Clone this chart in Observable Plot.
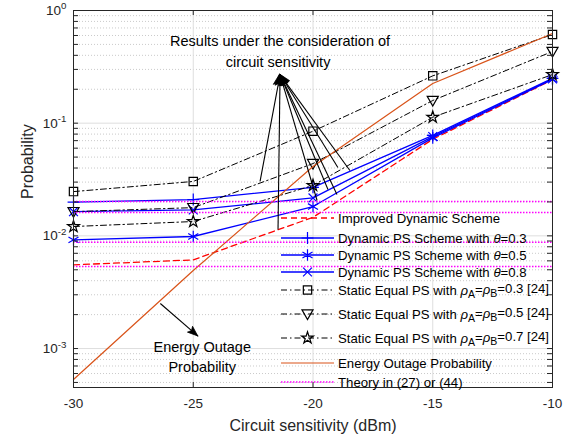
<!DOCTYPE html>
<html><head><meta charset="utf-8">
<script src="https://cdn.jsdelivr.net/npm/d3@7"></script>
<script src="https://cdn.jsdelivr.net/npm/@observablehq/plot@0.6"></script>
<style>body{margin:0;background:#fff}</style>
</head><body><div id="chart"></div>
<script>
// ---------- data ----------
const sens = [-30, -25, -20, -15, -10];             // circuit sensitivity (dBm)
const improved = [0.00553, 0.00612, 0.0146, 0.072, 0.243];
const dyn03 = [0.0199, 0.0210, 0.0269, 0.078, 0.250];
const dyn05 = [0.00922, 0.00987, 0.0182, 0.074, 0.245];
const dyn08 = [0.0164, 0.0170, 0.0217, 0.076, 0.247];
const static03 = [0.0247, 0.0304, 0.0849, 0.263, 0.612];
const static05 = [0.0164, 0.0178, 0.0438, 0.159, 0.433];
const static07 = [0.0121, 0.0134, 0.0280, 0.113, 0.270];
const energy = [0.000531, 0.00492, 0.0412, 0.225, 0.625];
const theory = [0.0202, 0.0161, 0.00878, 0.00534];  // horizontal theory levels

const xTicks = [-30, -25, -20, -15, -10];
const yMajor = [1e-3, 1e-2, 1e-1, 1];
const yMin = 4.51e-4;
const yMinor = [];
for (let k = -4; k <= -1; k++) for (let m = 2; m <= 9; m++) { const v = m * 10 ** k; if (v > yMin && v < 1) yMinor.push(v); }

// annotation arrows (tail -> apex), data coordinates
const arrowTailX = [-22.21, -21.46, -19.83, -19.375, -19.0, -18.96, -18.46];
const arrowTailY = [0.0304, 0.01138, 0.0206, 0.0258, 0.0233, 0.0404, 0.0380];
const apex = {x: -21.375, y: 0.27};
const energyArrow = {x1: -26.375, y1: 0.00251, x2: -24.79, y2: 0.00128};

const BLUE = "#0000ff", RED = "#ff0000", MAG = "#ff00ff", ORANGE = "#D95319", BLACK = "#000000";
const triDown = {draw(ctx, size) { const s = Math.sqrt(size); ctx.moveTo(-0.6*s, -0.45*s); ctx.lineTo(0.6*s, -0.45*s); ctx.lineTo(0, 0.6*s); ctx.closePath(); }};

const series = [
  {key: "improved", vals: improved, stroke: RED, dash: "6,4", width: 1.3, symbol: null},
  {key: "dyn03", vals: dyn03, stroke: BLUE, dash: null, width: 1.3, symbol: d3.symbolPlus, r: 3.9},
  {key: "dyn05", vals: dyn05, stroke: BLUE, dash: null, width: 1.3, symbol: d3.symbolAsterisk, r: 5.5},
  {key: "dyn08", vals: dyn08, stroke: BLUE, dash: null, width: 1.3, symbol: d3.symbolTimes, r: 4.1},
  {key: "static03", vals: static03, stroke: BLACK, dash: "6,3,1.5,3", width: 1, symbol: d3.symbolSquare, r: 4.7},
  {key: "static05", vals: static05, stroke: BLACK, dash: "6,3,1.5,3", width: 1, symbol: triDown, r: 5.2},
  {key: "static07", vals: static07, stroke: BLACK, dash: "6,3,1.5,3", width: 1, symbol: d3.symbolStar, r: 3.7},
  {key: "energy", vals: energy, stroke: ORANGE, dash: null, width: 1.2, symbol: null}
];

const FONT = "'Liberation Sans', Arial, Helvetica, sans-serif";
const tickX = 5 / 24;          // tick length in dB
const tickYf = 10 ** (5 / 112.67); // tick length factor in log space

const arrowData = arrowTailX.map((x, i) => ({x1: x, y1: arrowTailY[i], x2: apex.x, y2: apex.y, len: 12}));
arrowData.push({...energyArrow, len: 11});

const marks = [
  Plot.ruleY(yMinor, {stroke: "#bdbdbd", strokeDasharray: "1,2", strokeWidth: 0.8}),
  Plot.ruleY(yMajor.slice(0, 3), {stroke: "#dedede"}),
  Plot.ruleX(xTicks.slice(1, 4), {stroke: "#dedede"}),
];
for (const s of series) {
  const data = s.vals.map((v, i) => ({x: sens[i], y: v}));
  marks.push(Plot.line(data, {x: "x", y: "y", stroke: s.stroke, strokeWidth: s.width, strokeDasharray: s.dash}));
  if (s.symbol) marks.push(Plot.dot(data, {x: "x", y: "y", symbol: s.symbol, r: s.r, stroke: s.stroke, fill: "none", strokeWidth: 1.2}));
}
marks.push(Plot.ruleY(theory, {stroke: MAG, strokeDasharray: "1.5,1.5", strokeWidth: 1.5}));
marks.push(Plot.link(arrowData, {x1: "x1", y1: "y1", x2: "x2", y2: "y2", stroke: BLACK, strokeWidth: 1.1}));
marks.push(Plot.text(["Results under the consideration of"], {x: -21.375, y: 0.531, text: d => d, fontSize: 14.5, fill: BLACK}));
marks.push(Plot.text(["circuit sensitivity"], {x: -21.46, y: 0.3455, text: d => d, fontSize: 14.5, fill: BLACK}));
marks.push(Plot.text(["Energy Outage"], {x: -24.625, y: 0.00102, text: d => d, fontSize: 14.5, fill: BLACK}));
marks.push(Plot.text(["Probability"], {x: -24.625, y: 0.000678, text: d => d, fontSize: 14.5, fill: BLACK}));
// inward ticks
const yAll = yMajor.concat(yMinor);
marks.push(Plot.ruleY(yAll, {x1: -30, x2: -30 + tickX, stroke: "#262626"}));
marks.push(Plot.ruleY(yAll, {x1: -10 - tickX, x2: -10, stroke: "#262626"}));
marks.push(Plot.ruleX(xTicks, {y1: yMin, y2: yMin * tickYf, stroke: "#262626"}));
marks.push(Plot.ruleX(xTicks, {y1: 1 / tickYf, y2: 1, stroke: "#262626"}));
marks.push(Plot.frame({stroke: "#262626"}));
marks.push(Plot.axisX({ticks: xTicks, tickSize: 0, tickPadding: 11, tickFormat: d => String(d), fontSize: 13.5, fill: "#262626", label: null}));
marks.push(Plot.axisY({ticks: yMajor, tickSize: 0, tickPadding: 7, tickFormat: d => "10|" + Math.round(Math.log10(d)), fontSize: 13.5, fill: "#262626", label: null}));
marks.push(Plot.text(["Circuit sensitivity (dBm)"], {frameAnchor: "bottom", dy: 43, text: d => d, fontSize: 16, fill: "#262626"}));
marks.push(Plot.text(["Probability"], {frameAnchor: "left", dx: -46, rotate: -90, text: d => d, fontSize: 16, fill: "#262626"}));

const chart = Plot.plot({
  width: 574, height: 439,
  marginLeft: 73, marginRight: 22, marginTop: 10, marginBottom: 52,
  style: {fontFamily: FONT, fontSize: "13px", background: "#fff"},
  x: {domain: [-30, -10]},
  y: {type: "log", domain: [yMin, 1]},
  marks
});

// superscript tick labels
d3.select(chart).selectAll('[aria-label="y-axis tick label"] text').each(function () {
  const parts = this.textContent.split("|");
  if (parts.length !== 2) return;
  const t = d3.select(this); t.text("");
  t.append("tspan").text(parts[0]);
  t.append("tspan").attr("dy", "-0.55em").attr("font-size", "0.72em").text(parts[1]);
});

// filled arrowheads, positioned through the plot's own scales
const xs = chart.scale("x"), ys = chart.scale("y");
const sx = d3.scaleLinear(xs.domain, xs.range);
const sy = d3.scaleLog(ys.domain, ys.range);
const heads = d3.select(chart).append("g").attr("fill", BLACK).attr("stroke", BLACK).attr("stroke-width", 0.8);
for (const a of arrowData) {
  const X1 = sx(a.x1), Y1 = sy(a.y1), X2 = sx(a.x2), Y2 = sy(a.y2);
  const ang = Math.atan2(Y2 - Y1, X2 - X1), L = a.len, w = 0.36;
  const p = [[X2, Y2],
    [X2 - L * Math.cos(ang - w), Y2 - L * Math.sin(ang - w)],
    [X2 - L * 0.75 * Math.cos(ang), Y2 - L * 0.75 * Math.sin(ang)],
    [X2 - L * Math.cos(ang + w), Y2 - L * Math.sin(ang + w)]];
  heads.append("path").attr("d", "M" + p.map(q => q.join(",")).join("L") + "Z");
}

// legend
const legendRows = [
  {s: 0, y: 218, label: [["Improved Dynamic Scheme"]]},
  {s: 1, y: 238, label: [["Dynamic PS Scheme with "], ["θ", "i"], ["=0.3"]]},
  {s: 2, y: 255, label: [["Dynamic PS Scheme with "], ["θ", "i"], ["=0.5"]]},
  {s: 3, y: 272, label: [["Dynamic PS Scheme with "], ["θ", "i"], ["=0.8"]]},
  {s: 4, y: 290, label: [["Static Equal PS with "], ["ρ", "i"], ["A", "sub"], ["=", "up"], ["ρ", "i"], ["B", "sub"], ["=0.3 [24]", "up"]]},
  {s: 5, y: 314, label: [["Static Equal PS with "], ["ρ", "i"], ["A", "sub"], ["=", "up"], ["ρ", "i"], ["B", "sub"], ["=0.5 [24]", "up"]]},
  {s: 6, y: 338, label: [["Static Equal PS with "], ["ρ", "i"], ["A", "sub"], ["=", "up"], ["ρ", "i"], ["B", "sub"], ["=0.7 [24]", "up"]]},
  {s: 7, y: 363, label: [["Energy Outage Probability"]]},
  {s: -1, y: 382, label: [["Theory in (27) or (44)"]]}
];
const lg = d3.select(chart).append("g").attr("font-family", FONT).attr("font-size", 13.2).attr("text-anchor", "start");
for (const row of legendRows) {
  const s = row.s >= 0 ? series[row.s] : {stroke: MAG, dash: "1.5,1.5", width: 1.5, symbol: null};
  lg.append("line").attr("x1", 281).attr("x2", 334).attr("y1", row.y).attr("y2", row.y)
    .attr("stroke", s.stroke).attr("stroke-width", s.width).attr("stroke-dasharray", s.dash);
  if (s.symbol) lg.append("path").attr("transform", `translate(307.5,${row.y})`)
    .attr("d", d3.symbol(s.symbol, Math.PI * s.r * s.r)()).attr("fill", "none").attr("stroke", s.stroke).attr("stroke-width", 1.2);
  const t = lg.append("text").attr("x", 338).attr("y", row.y).attr("dy", "0.35em").attr("fill", "#000");
  for (const [txt, st] of row.label) {
    const sp = t.append("tspan").text(txt);
    if (st === "i") sp.attr("font-style", "italic");
    if (st === "sub") sp.attr("dy", "0.35em").attr("font-size", "0.8em");
    if (st === "up") sp.attr("dy", "-0.35em");
  }
}
document.getElementById("chart").appendChild(chart);
</script>
</body></html>
